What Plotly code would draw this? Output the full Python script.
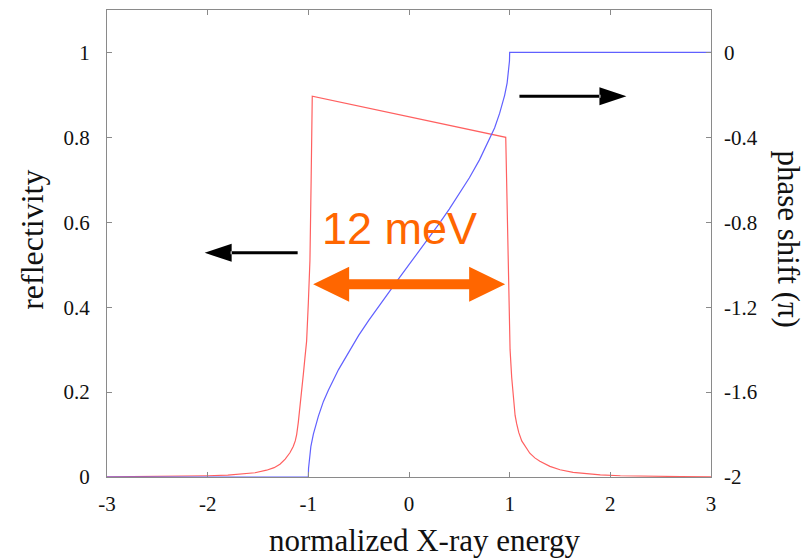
import plotly.graph_objects as go

# ---- data ----
refl_x = [-3.0, -2.6, -2.3, -2.0, -1.8, -1.647, -1.53, -1.415, -1.34, -1.282, -1.23, -1.183,
          -1.15, -1.13, -1.116, -1.1, -1.083, -1.066, -1.05, -1.034, -1.017, -1.0, -0.984,
          -0.972, -0.961,
          0.961, 0.972, 0.98, 0.992, 1.004, 1.02, 1.037, 1.054, 1.07, 1.09, 1.12, 1.17, 1.2,
          1.25, 1.3, 1.4, 1.5, 1.63, 1.77, 1.9, 2.1, 2.4, 2.7, 3.0]
refl_y = [0.0005, 0.001, 0.002, 0.003, 0.0045, 0.007, 0.010, 0.016, 0.022, 0.030, 0.042, 0.057,
          0.072, 0.085, 0.100, 0.128, 0.163, 0.20, 0.241, 0.28, 0.32, 0.41, 0.51,
          0.70, 0.897,
          0.800, 0.65, 0.534, 0.42, 0.30, 0.235, 0.18, 0.145, 0.125, 0.105, 0.085, 0.068, 0.056,
          0.045, 0.037, 0.025, 0.017, 0.011, 0.007, 0.005, 0.003, 0.0015, 0.001, 0.0005]

phase_x = [-3.0, -1.0, -0.998, -0.99, -0.975, -0.95, -0.9, -0.85, -0.8, -0.7, -0.6, -0.5,
           -0.4, -0.3, -0.2, -0.1, 0.0, 0.1, 0.2, 0.3, 0.4, 0.5, 0.6, 0.7, 0.8, 0.85, 0.9,
           0.95, 0.975, 0.99, 0.998, 1.0, 3.0]
phase_y = [-2.0, -2.0, -1.96, -1.91, -1.857, -1.798, -1.713, -1.644, -1.590, -1.494, -1.410,
           -1.333, -1.262, -1.194, -1.128, -1.064, -1.0, -0.936, -0.872, -0.806, -0.738,
           -0.667, -0.590, -0.506, -0.410, -0.356, -0.287, -0.202, -0.143, -0.09, -0.04,
           0.0, 0.0]

x_ticks = [-3, -2, -1, 0, 1, 2, 3]
x_ticktext = ["-3", "-2", "-1", "0", "1", "2", "3"]
y_ticks = [0, 0.2, 0.4, 0.6, 0.8, 1.0]
y_ticktext = ["0", "0.2", "0.4", "0.6", "0.8", "1"]
y2_ticks = [-2, -1.6, -1.2, -0.8, -0.4, 0]
y2_ticktext = ["-2", "-1.6", "-1.2", "-0.8", "-0.4", "0"]

SERIF = "Liberation Serif"
ORANGE = "#ff6600"
AXC = "#8a8a8a"

fig = go.Figure()
fig.add_trace(go.Scatter(x=phase_x, y=phase_y, mode="lines", yaxis="y2",
                         line=dict(color="#6060ff", width=1.2), showlegend=False))
fig.add_trace(go.Scatter(x=refl_x, y=refl_y, mode="lines",
                         line=dict(color="#ff6060", width=1.2), showlegend=False))

def tf():
    return dict(family=SERIF, size=21, color="#111")

fig.update_layout(
    width=807, height=559,
    margin=dict(l=107, r=96, t=10, b=82),
    paper_bgcolor="white", plot_bgcolor="white",
    font=dict(family=SERIF, size=21, color="#111"),
    xaxis=dict(range=[-3, 3], tickvals=x_ticks, ticktext=x_ticktext, ticks="inside",
               ticklen=5, tickcolor=AXC, showline=True, linecolor=AXC, linewidth=1,
               mirror="ticks", showgrid=False, zeroline=False, tickfont=tf(),
               ticklabelstandoff=8),
    yaxis=dict(range=[0, 1.1], tickvals=y_ticks, ticktext=y_ticktext, ticks="inside",
               ticklen=5, tickcolor=AXC, showline=True, linecolor=AXC, linewidth=1,
               mirror=True, showgrid=False, zeroline=False, tickfont=tf(),
               ticklabelstandoff=12),
    yaxis2=dict(range=[-2, 0.2], tickvals=y2_ticks, ticktext=y2_ticktext, ticks="inside",
                ticklen=5, tickcolor=AXC, overlaying="y", side="right", showline=False,
                showgrid=False, zeroline=False, tickfont=tf(), ticklabelstandoff=12),
)

annotations = [
    dict(text="normalized X-ray energy", xref="paper", yref="paper", x=0.527, y=-0.137,
         xanchor="center", yanchor="middle", showarrow=False,
         font=dict(family=SERIF, size=31, color="#111")),
    dict(text="reflectivity", xref="paper", yref="paper", x=-0.124, y=0.508,
         xanchor="center", yanchor="middle", showarrow=False, textangle=-90,
         font=dict(family=SERIF, size=32, color="#111")),
    dict(text="phase shift (\u03c0)", xref="paper", yref="paper", x=1.128, y=0.508,
         xanchor="center", yanchor="middle", showarrow=False, textangle=90,
         font=dict(family=SERIF, size=31, color="#111")),
    dict(text="12 meV", xref="x", yref="y", x=-0.09, y=0.586,
         xanchor="center", yanchor="middle", showarrow=False,
         font=dict(family="Liberation Sans", size=45, color=ORANGE)),
]
fig.update_layout(annotations=annotations)

shapes = [
    dict(type="path", xref="x", yref="y", xsizemode="pixel", ysizemode="pixel",
         xanchor=0.0015, yanchor=0.454,
         path="M-96,0 L-60,17.5 L-60,5 L60,5 L60,17.5 L96,0 L60,-17.5 L60,-5 L-60,-5 L-60,-17.5 Z",
         fillcolor=ORANGE, line=dict(width=0), layer="above"),
    dict(type="path", xref="x", yref="y", xsizemode="pixel", ysizemode="pixel",
         xanchor=-2.03, yanchor=0.528,
         path="M0,0 L27,9 L27,-9 Z M26,1.5 L93,1.5 L93,-1.5 L26,-1.5 Z",
         fillcolor="black", line=dict(width=0), layer="above"),
    dict(type="path", xref="x", yref="y", xsizemode="pixel", ysizemode="pixel",
         xanchor=2.16, yanchor=0.897,
         path="M0,0 L-27,9 L-27,-9 Z M-26,1.5 L-107,1.5 L-107,-1.5 L-26,-1.5 Z",
         fillcolor="black", line=dict(width=0), layer="above"),
]
fig.update_layout(shapes=shapes)

fig.write_html("out.html")
